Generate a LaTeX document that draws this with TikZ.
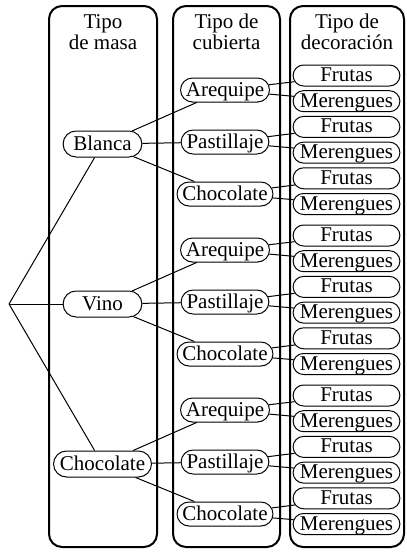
\documentclass[tikz,border=0pt]{standalone}
\usepackage{fontspec}
\setmainfont{Liberation Serif}
\usetikzlibrary{shapes.misc}
% label box that is at least #1 wide
\newcommand\pillbox[2]{\setbox0\hbox{#2}\ifdim\wd0<#1\relax\makebox[#1]{#2}\else\box0\fi}
\begin{document}
\begin{tikzpicture}[x=1pt,y=-1pt,
  every node/.style={font=\fontsize{21}{19}\selectfont},
  column/.style={draw, line width=2pt, rounded corners=13pt},
  % the text box fills the full height, so the ends are true half circles
  pill/.style={draw, rounded rectangle, line width=1pt, inner xsep=-6.6pt, inner ysep=0pt, fill=white},
  masa/.style={pill, text height=19pt, text depth=7pt},
  cub/.style={pill, text height=18pt, text depth=6pt},
  deco/.style={pill, text height=16.5pt, text depth=4.5pt},
  link/.style={line width=1pt},
  header/.style={align=center, anchor=base, inner sep=0pt}]
  \useasboundingbox (0,0) rectangle (407,552);

  % the three columns
  \draw[column] (49,6) rectangle (157,547);
  \draw[column] (173,6) rectangle (280,547);
  \draw[column] (290,6) rectangle (404,547);

  % column headings (anchored at the baseline of their last line)
  \node[header] (h1) at (103,49) {Tipo\\de masa};
  \node[header] (h2) at (226.5,49) {Tipo de\\cubierta};
  \node[header] (h3) at (347,49) {Tipo de\\decoración};

  % tree: masa -> cubierta -> decoración
  \coordinate (root) at (9,304);
  \foreach \g/\name in {0/Blanca,1/Vino,2/Chocolate} {
    \node[masa] (m\g) at (102.5,144+160*\g) {\pillbox{66pt}{\name}};
    \draw[link] (root) -- (m\g);
    \foreach \j/\cname in {0/Arequipe,1/Pastillaje,2/Chocolate} {
      \node[cub] (c\g\j) at (225,90+160*\g+52*\j) {\cname};
      \draw[link] (m\g) -- (c\g\j);
      \node[deco] (f\g\j) at (346.5,75.5+160*\g+51.4*\j) {\pillbox{99pt}{Frutas}};
      \node[deco] (r\g\j) at (346.5,101.2+160*\g+51.4*\j) {\pillbox{99pt}{Merengues}};
      \draw[link] (c\g\j) -- (f\g\j);
      \draw[link] (c\g\j) -- (r\g\j);
    }
  }
\end{tikzpicture}
\end{document}
